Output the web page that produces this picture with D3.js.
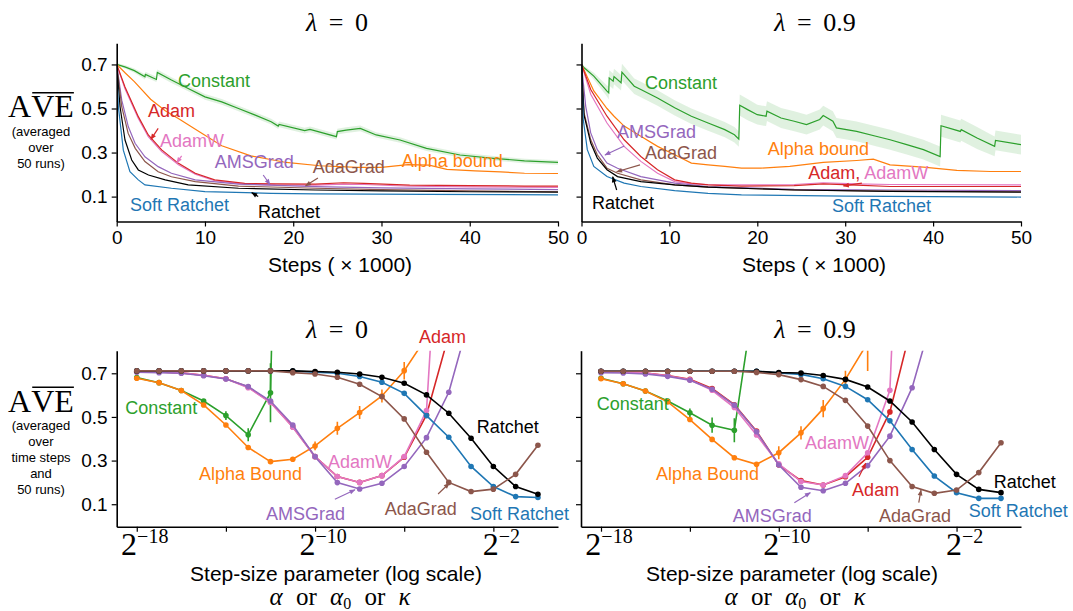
<!DOCTYPE html>
<html>
<head>
<meta charset="utf-8">
<script src="https://cdn.jsdelivr.net/npm/d3@7"></script>
<style>
body { margin: 0; background: #fff; }
svg { display: block; }
</style>
</head>
<body>
<div id="graphicContainer"></div>
<script>

// ---------- data ----------
// learning curves: [steps x1000, AVE] (constant also has band half-width)
const constantCurve0 = [[0,.700,.006],[1,.688,.008],[2,.672,.01],[3.2,.644,.012],[3.25,.655,.012],[4.5,.632,.012],[4.6,.664,.013],[6.2,.629,.013],[8.1,.591,.013],[10,.553,.013],[11.9,.530,.013],[13.8,.500,.013],[15.7,.470,.013],[17.5,.440,.013],[18.3,.420,.013],[18.4,.428,.013],[21.3,.400,.013],[21.9,.405,.013],[24.9,.372,.013],[25,.395,.013],[26,.402,.013],[27.6,.410,.013],[29.4,.380,.012],[32.1,.357,.012],[35.1,.319,.012],[38.9,.289,.011],[42.7,.274,.01],[46.2,.262,.01],[50,.255,.01]]
const alphaCurve0 = [[0,.70],[1,.66],[2,.622],[3.84,.542],[5.5,.49],[7.07,.452],[9.5,.391],[11.9,.331],[15.2,.285],[19.2,.255],[23,.24],[27.3,.233],[30,.233],[33,.245],[35.4,.243],[37.4,.224],[40.6,.217],[43.5,.212],[46.2,.206],[50,.205]]
const adamCurve0 = [[0,.70],[0.94,.598],[2.45,.463],[3.58,.38],[5.1,.312],[7,.251],[8.9,.206],[11.1,.176],[14.5,.16],[18,.158],[22.5,.157],[25.7,.163],[28,.16],[33.2,.152],[40,.15],[46.2,.148],[50,.148]]
const adamwCurve0 = [[0,.70],[0.94,.59],[2.45,.455],[3.58,.372],[5.1,.305],[7,.245],[8.9,.202],[11.1,.172],[14.5,.157],[18,.153],[22.5,.152],[25.7,.157],[28,.155],[33.2,.147],[40,.144],[50,.142]]
const amsCurve0 = [[0,.70],[0.57,.538],[1.32,.417],[2.08,.342],[3.2,.281],[4.7,.236],[6.2,.206],[8.9,.176],[13.8,.157],[22.5,.145],[30,.14],[40,.135],[50,.132]]
const adagradCurve0 = [[0,.70],[0.57,.508],[1.3,.387],[2.1,.319],[3.2,.259],[4.7,.213],[6.2,.19],[8.9,.168],[13.8,.148],[22.5,.138],[30,.132],[40,.126],[50,.122]]
const ratchetCurve0 = [[0,.70],[0.38,.508],[0.94,.357],[1.7,.266],[2.45,.221],[3.6,.198],[5.5,.176],[8.1,.153],[13.8,.138],[22.5,.13],[30,.126],[40,.122],[50,.12]]
const softCurve0 = [[0,.70],[0.19,.508],[0.75,.311],[1.5,.213],[2.45,.176],[3.2,.153],[6.2,.138],[10,.123],[17.5,.115],[22.5,.112],[35,.11],[50,.108]]

const constantCurve9 = [[0,.70,.005],[0.3,.685,.008],[1.4,.647,.015],[2.9,.579,.025],[3.1,.571,.03],[3.15,.639,.035],[3.6,.624,.035],[3.7,.645,.035],[4.5,.617,.035],[4.6,.665,.038],[6,.601,.035],[6.75,.586,.035],[8.65,.548,.035],[10.6,.503,.035],[12.5,.465,.035],[14.4,.434,.035],[16.3,.404,.035],[17.4,.381,.035],[17.9,.361,.035],[18,.515,.048],[18.9,.495,.048],[20,.472,.045],[21,.465,.045],[21.1,.488,.045],[22.7,.457,.045],[24.2,.442,.045],[25.6,.427,.045],[27.1,.45,.045],[27.5,.468,.045],[28.6,.442,.045],[29,.412,.045],[31.3,.396,.045],[33.5,.374,.045],[35.1,.358,.045],[37,.336,.045],[38.9,.313,.045],[40.8,.282,.045],[40.9,.422,.05],[43.1,.396,.05],[43.2,.404,.05],[45,.366,.05],[47,.328,.045],[47.1,.355,.045],[50,.336,.045]]
const alphaCurve9 = [[0,.70],[1.4,.58],[2.9,.50],[3.7,.465],[4.85,.42],[6.75,.374],[8.65,.328],[10.6,.29],[12.5,.252],[14.4,.244],[16.3,.237],[18.2,.229],[20.4,.229],[23.7,.237],[27.5,.255],[31.3,.264],[33.2,.27],[35.1,.244],[38.9,.234],[42.7,.219],[46.5,.214],[50,.214]]
const adamCurve9 = [[0,.70],[1.05,.586],[2.9,.465],[4.85,.358],[6.75,.282],[8.65,.222],[10.6,.176],[12.5,.161],[14.4,.153],[18.2,.148],[24.2,.15],[27.5,.158],[31.3,.152],[35.1,.146],[50,.146]]
const adamwCurve9 = [[0,.70],[1.05,.565],[2.9,.434],[4.85,.328],[6.75,.26],[8.65,.206],[10.6,.168],[12.5,.158],[14.4,.155],[18.2,.153],[24.2,.155],[27.5,.163],[31.3,.158],[35.1,.155],[50,.153]]
const amsCurve9 = [[0,.70],[0.48,.51],[1.05,.389],[1.8,.313],[2.9,.252],[4.1,.229],[6.75,.191],[10.6,.161],[14.4,.146],[24.2,.133],[35,.13],[50,.127]]
const adagradCurve9 = [[0,.70],[0.29,.48],[1.05,.358],[1.8,.29],[2.9,.229],[4.1,.206],[6.75,.176],[10.6,.153],[14.4,.143],[24.2,.13],[35,.125],[50,.122]]
const ratchetCurve9 = [[0,.70],[0.29,.47],[1.05,.343],[1.8,.275],[2.9,.222],[4.1,.191],[6.75,.168],[10.6,.153],[14.4,.143],[24.2,.13],[35,.124],[50,.12]]
const softCurve9 = [[0,.70],[0.2,.45],[0.66,.313],[1.4,.237],[2.9,.191],[4.85,.161],[6.75,.146],[10.6,.127],[14.4,.115],[18.2,.108],[30,.102],[50,.098]]

// parameter sweeps: step-size = 2^exponent
const exponents = [-18,-17,-16,-15,-14,-13,-12,-11,-10,-9,-8,-7,-6,-5,-4,-3,-2,-1,0]

const constantSweep0 = [0.68,0.657,0.621,0.573,0.506,0.418,0.611,5.0]
const constantErr0 = [0.005,0.005,0.005,0.008,0.02,0.03,0.135,0]
const alphaSweep0 = [0.677,0.657,0.621,0.555,0.463,0.36,0.295,0.306,0.367,0.448,0.52,0.596,0.712,0.865]
const alphaErr0 = [0,0,0,0,0,0,0.005,0.01,0.02,0.03,0.03,0.03,0.04,0.05]
const adamSweep0 = [0.708,0.706,0.702,0.691,0.675,0.637,0.568,0.455,0.318,0.227,0.2,0.231,0.315,0.509,0.876]
const adamwSweep0 = [0.708,0.706,0.702,0.691,0.675,0.634,0.566,0.453,0.318,0.227,0.2,0.231,0.318,0.529,2.2]
const amsSweep0 = [0.705,0.703,0.7,0.689,0.674,0.639,0.573,0.463,0.318,0.199,0.17,0.196,0.273,0.405,0.613,0.98]
const adagradSweep0 = [0.711,0.711,0.711,0.711,0.711,0.711,0.711,0.703,0.697,0.682,0.65,0.593,0.491,0.338,0.2,0.158,0.169,0.237,0.37]
const ratchetSweep0 = [0.711,0.711,0.711,0.711,0.711,0.711,0.711,0.711,0.708,0.705,0.697,0.682,0.654,0.601,0.517,0.402,0.273,0.181,0.146]
const softSweep0 = [0.711,0.711,0.711,0.711,0.711,0.711,0.711,0.710,0.705,0.70,0.685,0.659,0.608,0.506,0.407,0.273,0.181,0.135,0.131]

const constantSweep9 = [0.677,0.652,0.619,0.573,0.519,0.462,0.439,1.12]
const constantErr9 = [0.005,0.005,0.005,0.01,0.02,0.035,0.055,0.02]
const alphaSweep9 = [0.675,0.652,0.619,0.569,0.488,0.397,0.313,0.283,0.336,0.427,0.538,0.672,0.84]
const alphaErr9 = [0,0,0,0,0,0,0.005,0.01,0.03,0.03,0.04,0.04,0.13]
const adamSweep9 = [0.708,0.706,0.701,0.69,0.672,0.63,0.556,0.435,0.28,0.208,0.188,0.226,0.315,0.523,0.93]
const adamwSweep9 = [0.708,0.706,0.701,0.689,0.67,0.622,0.543,0.417,0.285,0.204,0.188,0.231,0.336,0.622,3.0]
const amsSweep9 = [0.703,0.701,0.697,0.686,0.668,0.627,0.554,0.432,0.28,0.178,0.162,0.196,0.277,0.412,0.634,0.99]
const adagradSweep9 = [0.709,0.709,0.709,0.709,0.709,0.709,0.709,0.704,0.694,0.671,0.64,0.576,0.458,0.3,0.181,0.15,0.165,0.245,0.382]
const ratchetSweep9 = [0.709,0.709,0.709,0.709,0.709,0.709,0.709,0.709,0.703,0.701,0.69,0.672,0.637,0.573,0.477,0.351,0.237,0.168,0.153]
const softSweep9 = [0.709,0.709,0.709,0.709,0.709,0.709,0.709,0.709,0.702,0.695,0.675,0.64,0.579,0.482,0.351,0.229,0.153,0.127,0.127]

const yTicks = [0.1, 0.3, 0.5, 0.7]
const stepTicks = [0, 10, 20, 30, 40, 50]
const logTicks = [-18, -14, -10, -6, -2]
const logTickLabels = [-18, -10, -2]

const col = {constant:"#2ca02c", alpha:"#ff7f0e", adam:"#d62728", adamw:"#e377c2",
             ams:"#9467bd", adagrad:"#8c564b", ratchet:"#000000", soft:"#1f77b4"}

// ---------- drawing ----------
var W = 1073, H = 611
var sans = "'Liberation Sans', Arial, Helvetica, sans-serif"
var serif = "'Liberation Serif', 'Times New Roman', serif"

var svg = d3.select("#graphicContainer").append("svg")
	.attr("width", W).attr("height", H)
var defs = svg.append("defs")

Object.keys(col).forEach(function(k) {
	defs.append("marker").attr("id", "arr-" + k)
		.attr("viewBox", "0 0 10 10").attr("refX", 9).attr("refY", 5)
		.attr("markerWidth", 7).attr("markerHeight", 6)
		.attr("markerUnits", "userSpaceOnUse").attr("orient", "auto")
		.append("path").attr("d", "M0,1L10,5L0,9z").attr("fill", col[k])
})

function makePanel(id, box, x, y, xTickVals, showYLabels, isLog) {
	defs.append("clipPath").attr("id", "clip-" + id)
		.append("rect").attr("x", box.x0).attr("y", box.yTop)
		.attr("width", box.x1 - box.x0).attr("height", box.yBot - box.yTop)

	var g = svg.append("g")
	var plot = g.append("g").attr("clip-path", "url(#clip-" + id + ")")

	var yAxis = d3.axisLeft(y).tickValues(yTicks).tickSize(5).tickPadding(4).tickSizeOuter(0)
		.tickFormat(showYLabels ? d3.format(".1f") : "")
	var ya = g.append("g").attr("transform", "translate(" + box.x0 + ",0)").call(yAxis)

	var xAxis = d3.axisBottom(x).tickValues(xTickVals).tickSize(5).tickPadding(4).tickSizeOuter(0)
	if (isLog) xAxis.tickFormat("")
	var xa = g.append("g").attr("transform", "translate(0," + box.yBot + ")").call(xAxis)

	;[ya, xa].forEach(function(a) {
		a.attr("font-family", sans).attr("font-size", 19)
		a.select(".domain").attr("stroke-width", 1.6)
		a.selectAll(".tick line").attr("stroke-width", 1.2)
		a.selectAll(".tick text").attr("fill", "#000")
	})

	if (isLog) {
		logTickLabels.forEach(function(e) {
			var t = g.append("text").attr("x", x(Math.pow(2, e)) + 8).attr("y", box.yBot + 28)
				.attr("text-anchor", "middle").attr("font-family", serif)
			t.append("tspan").attr("font-size", 32).text("2")
			t.append("tspan").attr("font-size", 20).attr("dy", -12).text("\u2212" + Math.abs(e))
		})
	}
	return {g: g, plot: plot}
}

function drawCurves(p, x, y, series) {
	var line = d3.line().x(function(d) { return x(d[0]) }).y(function(d) { return y(d[1]) })
	series.forEach(function(s) {
		if (s.band) {
			var area = d3.area().x(function(d) { return x(d[0]) })
				.y0(function(d) { return y(d[1] - d[2]) }).y1(function(d) { return y(d[1] + d[2]) })
			p.plot.append("path").attr("d", area(s.data)).attr("fill", col[s.key]).attr("fill-opacity", 0.15)
		}
		p.plot.append("path").attr("d", line(s.data)).attr("fill", "none")
			.attr("stroke", col[s.key]).attr("stroke-width", 1.2)
	})
}

function drawSweeps(p, x, y, series) {
	series.forEach(function(s) {
		var pts = s.vals.map(function(v, i) { return [Math.pow(2, exponents[i]), v, s.err ? s.err[i] : 0] })
		var line = d3.line().x(function(d) { return x(d[0]) }).y(function(d) { return y(d[1]) })
		p.plot.append("path").attr("d", line(pts)).attr("fill", "none")
			.attr("stroke", col[s.key]).attr("stroke-width", 1.6)
		p.plot.selectAll(null).data(pts.filter(function(d) { return d[2] > 0 })).enter()
			.append("line")
			.attr("x1", function(d) { return x(d[0]) }).attr("x2", function(d) { return x(d[0]) })
			.attr("y1", function(d) { return y(d[1] - d[2]) }).attr("y2", function(d) { return y(d[1] + d[2]) })
			.attr("stroke", col[s.key]).attr("stroke-width", 1.6)
		p.plot.selectAll(null).data(pts).enter().append("circle")
			.attr("cx", function(d) { return x(d[0]) }).attr("cy", function(d) { return y(d[1]) })
			.attr("r", 2.8).attr("fill", col[s.key])
	})
}

function drawNotes(p, x, y, labels, arrows, xf) {
	labels.forEach(function(l) {
		var t = p.g.append("text").attr("x", x(xf(l.x))).attr("y", y(l.y))
			.attr("font-family", sans).attr("font-size", 18)
		l.parts.forEach(function(pt) { t.append("tspan").attr("fill", col[pt[1]]).text(pt[0]) })
	})
	arrows.forEach(function(a) {
		p.g.append("line")
			.attr("x1", x(xf(a.from[0]))).attr("y1", y(a.from[1]))
			.attr("x2", x(xf(a.to[0]))).attr("y2", y(a.to[1]))
			.attr("stroke", col[a.key]).attr("stroke-width", 1.2)
			.attr("marker-end", "url(#arr-" + a.key + ")")
	})
}

function title(cx, baseline, val) {
	var t = svg.append("text").attr("x", cx).attr("y", baseline).attr("text-anchor", "middle")
		.attr("font-family", serif).attr("font-size", 26).attr("word-spacing", 5)
	t.append("tspan").attr("font-style", "italic").text("\u03bb")
	t.append("tspan").text(" = " + val)
}

function aveLabel(cx, baseline, notes) {
	var tA = svg.append("text").attr("y", baseline).attr("font-family", serif).attr("font-size", 32).text("A")
	var tV = svg.append("text").attr("y", baseline).attr("font-family", serif).attr("font-size", 32).text("VE")
	var wA = tA.node().getComputedTextLength(), wV = tV.node().getComputedTextLength()
	var x0 = cx - (wA + wV) / 2
	tA.attr("x", x0); tV.attr("x", x0 + wA)
	svg.append("line").attr("x1", x0 + wA + 1).attr("x2", x0 + wA + wV)
		.attr("y1", baseline - 24.5).attr("y2", baseline - 24.5)
		.attr("stroke", "#000").attr("stroke-width", 1.4)
	notes.forEach(function(n, i) {
		svg.append("text").attr("x", cx).attr("y", baseline + 18.5 + i * 16)
			.attr("text-anchor", "middle").attr("font-family", sans).attr("font-size", 13).text(n)
	})
}

function xLabel(cx, baseline, txt) {
	svg.append("text").attr("x", cx).attr("y", baseline).attr("text-anchor", "middle")
		.attr("font-family", sans).attr("font-size", 21).text(txt)
}

function paramLabel(cx, baseline) {
	var t = svg.append("text").attr("x", cx).attr("y", baseline).attr("text-anchor", "middle")
		.attr("font-family", serif).attr("font-size", 25).attr("word-spacing", 7)
	t.append("tspan").attr("font-style", "italic").text("\u03b1")
	t.append("tspan").text(" or ")
	t.append("tspan").attr("font-style", "italic").text("\u03b1")
	t.append("tspan").attr("font-size", 16).attr("dy", 4).text("0")
	t.append("tspan").attr("dy", -4).text(" or ")
	t.append("tspan").attr("font-style", "italic").text("\u03ba")
}

// boxes
var boxTL = {x0: 116.7, x1: 558, yTop: 43.3, yBot: 221.5}
var boxTR = {x0: 581.5, x1: 1021, yTop: 43.3, yBot: 221.5}
var boxBL = {x0: 116.7, x1: 558, yTop: 350.7, yBot: 526.7}
var boxBR = {x0: 581, x1: 1021, yTop: 350.7, yBot: 526.7}

function stepScale(b) { return d3.scaleLinear().domain([0, 50]).range([b.x0, b.x1]) }
function logScale(b) { return d3.scaleLog().base(2).domain([Math.pow(2, -18.9), Math.pow(2, 0.9)]).range([b.x0, b.x1]) }
function topY(b) { return d3.scaleLinear().domain([-0.013, 0.796]).range([b.yBot, b.yTop]) }
function botY(b) { return d3.scaleLinear().domain([-0.003, 0.8035]).range([b.yBot, b.yTop]) }
var ident = function(v) { return v }
var pow2 = function(v) { return Math.pow(2, v) }

// ---- top left
var xTL = stepScale(boxTL), yTL = topY(boxTL)
var pTL = makePanel("tl", boxTL, xTL, yTL, stepTicks, true, false)
drawCurves(pTL, xTL, yTL, [
	{key: "constant", data: constantCurve0, band: true},
	{key: "alpha", data: alphaCurve0},
	{key: "adamw", data: adamwCurve0},
	{key: "adam", data: adamCurve0},
	{key: "ams", data: amsCurve0},
	{key: "adagrad", data: adagradCurve0},
	{key: "ratchet", data: ratchetCurve0},
	{key: "soft", data: softCurve0}
])
drawNotes(pTL, xTL, yTL, [
	{parts: [["Constant", "constant"]], x: 6.94, y: 0.597},
	{parts: [["Adam", "adam"]], x: 3.54, y: 0.462},
	{parts: [["AdamW", "adamw"]], x: 4.9, y: 0.326},
	{parts: [["AMSGrad", "ams"]], x: 11.1, y: 0.23},
	{parts: [["AdaGrad", "adagrad"]], x: 22.2, y: 0.208},
	{parts: [["Alpha bound", "alpha"]], x: 32.3, y: 0.235},
	{parts: [["Soft Ratchet", "soft"]], x: 1.5, y: 0.035},
	{parts: [["Ratchet", "ratchet"]], x: 16.0, y: 0.003}
], [
	{key: "adam", from: [4.7, 0.41], to: [3.88, 0.36]},
	{key: "adamw", from: [7.36, 0.285], to: [6.8, 0.254]},
	{key: "ams", from: [16.6, 0.198], to: [17.36, 0.155]},
	{key: "adagrad", from: [22.8, 0.185], to: [21.4, 0.149]},
	{key: "ratchet", from: [16.03, 0.1], to: [15.3, 0.118]}
], ident)

// ---- top right
var xTR = stepScale(boxTR), yTR = topY(boxTR)
var pTR = makePanel("tr", boxTR, xTR, yTR, stepTicks, false, false)
drawCurves(pTR, xTR, yTR, [
	{key: "constant", data: constantCurve9, band: true},
	{key: "alpha", data: alphaCurve9},
	{key: "adamw", data: adamwCurve9},
	{key: "adam", data: adamCurve9},
	{key: "ams", data: amsCurve9},
	{key: "adagrad", data: adagradCurve9},
	{key: "ratchet", data: ratchetCurve9},
	{key: "soft", data: softCurve9}
])
drawNotes(pTR, xTR, yTR, [
	{parts: [["Constant", "constant"]], x: 7.22, y: 0.589},
	{parts: [["AMSGrad", "ams"]], x: 4.04, y: 0.366},
	{parts: [["AdaGrad", "adagrad"]], x: 7.22, y: 0.271},
	{parts: [["Ratchet", "ratchet"]], x: 1.19, y: 0.044},
	{parts: [["Alpha bound", "alpha"]], x: 21.2, y: 0.289},
	{parts: [["Adam,", "adam"], [" AdamW", "adamw"]], x: 25.8, y: 0.18},
	{parts: [["Soft Ratchet", "soft"]], x: 28.5, y: 0.03}
], [
	{key: "ams", from: [4.87, 0.33], to: [2.67, 0.289]},
	{key: "adagrad", from: [6.66, 0.244], to: [4.0, 0.213]},
	{key: "ratchet", from: [4.0, 0.13], to: [3.55, 0.19]},
	{key: "adam", from: [31.9, 0.161], to: [29.8, 0.149]}
], ident)

// ---- bottom left
var xBL = logScale(boxBL), yBL = botY(boxBL)
var pBL = makePanel("bl", boxBL, xBL, yBL, logTicks.map(pow2), true, true)
drawSweeps(pBL, xBL, yBL, [
	{key: "constant", vals: constantSweep0, err: constantErr0},
	{key: "alpha", vals: alphaSweep0, err: alphaErr0},
	{key: "adam", vals: adamSweep0},
	{key: "adamw", vals: adamwSweep0},
	{key: "ams", vals: amsSweep0},
	{key: "soft", vals: softSweep0},
	{key: "ratchet", vals: ratchetSweep0},
	{key: "adagrad", vals: adagradSweep0}
])
drawNotes(pBL, xBL, yBL, [
	{parts: [["Constant", "constant"]], x: -18.52, y: 0.512},
	{parts: [["Alpha Bound", "alpha"]], x: -15.21, y: 0.211},
	{parts: [["AMSGrad", "ams"]], x: -12.2, y: 0.028},
	{parts: [["AdamW", "adamw"]], x: -9.42, y: 0.268},
	{parts: [["AdaGrad", "adagrad"]], x: -6.87, y: 0.051},
	{parts: [["Adam", "adam"]], x: -5.34, y: 0.8375},
	{parts: [["Ratchet", "ratchet"]], x: -2.75, y: 0.425},
	{parts: [["Soft Ratchet", "soft"]], x: -3.05, y: 0.028}
], [
	{key: "ams", from: [-9.11, 0.123], to: [-8.21, 0.166]},
	{key: "adagrad", from: [-4.48, 0.147], to: [-3.98, 0.196]}
], pow2)

// ---- bottom right
var xBR = logScale(boxBR), yBR = botY(boxBR)
var pBR = makePanel("br", boxBR, xBR, yBR, logTicks.map(pow2), false, true)
drawSweeps(pBR, xBR, yBR, [
	{key: "constant", vals: constantSweep9, err: constantErr9},
	{key: "alpha", vals: alphaSweep9, err: alphaErr9},
	{key: "adam", vals: adamSweep9},
	{key: "adamw", vals: adamwSweep9},
	{key: "ams", vals: amsSweep9},
	{key: "soft", vals: softSweep9},
	{key: "ratchet", vals: ratchetSweep9},
	{key: "adagrad", vals: adagradSweep9}
])
drawNotes(pBR, xBR, yBR, [
	{parts: [["Constant", "constant"]], x: -18.19, y: 0.532},
	{parts: [["Alpha Bound", "alpha"]], x: -15.53, y: 0.211},
	{parts: [["AMSGrad", "ams"]], x: -12.07, y: 0.02},
	{parts: [["AdamW", "adamw"]], x: -8.82, y: 0.352},
	{parts: [["Adam", "adam"]], x: -6.7, y: 0.138},
	{parts: [["AdaGrad", "adagrad"]], x: -5.49, y: 0.02},
	{parts: [["Soft Ratchet", "soft"]], x: -1.45, y: 0.043},
	{parts: [["Ratchet", "ratchet"]], x: -0.33, y: 0.176}
], [
	{key: "ams", from: [-9.3, 0.107], to: [-8.58, 0.153]},
	{key: "adam", from: [-6.39, 0.226], to: [-6.09, 0.288]},
	{key: "adagrad", from: [-3.7, 0.107], to: [-3.6, 0.165]}
], pow2)

// titles and axis labels
title(337, 30.7, "0")
title(815, 30.7, "0.9")
title(337, 338, "0")
title(815, 338, "0.9")

aveLabel(41, 117.3, ["(averaged", "over", "50 runs)"])
aveLabel(41, 411.7, ["(averaged", "over", "time steps", "and", "50 runs)"])

xLabel(340, 272, "Steps ( \u00d7 1000)")
xLabel(814, 272, "Steps ( \u00d7 1000)")
xLabel(336, 581, "Step-size parameter (log scale)")
xLabel(792, 581, "Step-size parameter (log scale)")
paramLabel(340, 605)
paramLabel(795, 605)

</script>
</body>
</html>
